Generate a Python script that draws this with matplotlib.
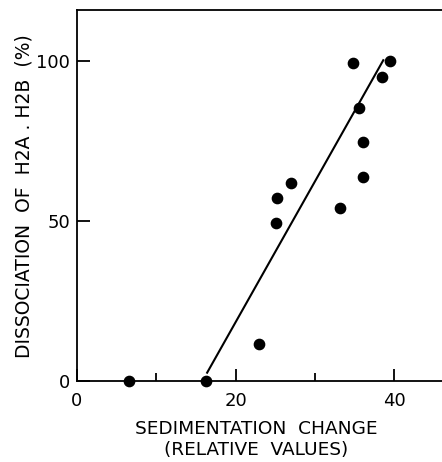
import matplotlib.pyplot as plt
from matplotlib.ticker import MultipleLocator

# sedimentation change vs dissociation of H2A.H2B
sed_change = [6.6, 16.2, 22.9, 25.1, 25.2, 27.0, 33.2, 34.8, 35.5, 36.0, 36.0, 38.4, 39.4]
dissociation = [0, 0, 11.6, 49.3, 57.1, 62.0, 54.2, 99.5, 85.3, 74.6, 63.8, 95.1, 99.9]

# fitted line end points
fit_x = [16.4, 38.6]
fit_y = [2.6, 100.3]

x_ticks = [0, 20, 40]
y_ticks = [0, 50, 100]

fig = plt.figure(figsize=(4.42, 4.62), dpi=100)
ax = fig.add_axes([77 / 442, 1 - 381 / 462, 1 - 77 / 442, (381 - 10) / 462])

ax.plot(fit_x, fit_y, color="black", lw=1.5)
ax.plot(sed_change, dissociation, "o", color="black", ms=7.4, clip_on=False, zorder=5)

ax.set_xlim(0, 46)
ax.set_ylim(0, 116)
ax.spines["right"].set_visible(False)
for s in ["left", "bottom", "top"]:
    ax.spines[s].set_linewidth(1.3)

ax.set_xticks(x_ticks)
ax.xaxis.set_minor_locator(MultipleLocator(10))
ax.set_yticks(y_ticks)
ax.tick_params(axis="x", which="major", direction="in", length=9, width=1.3, pad=8, labelsize=13)
ax.tick_params(axis="x", which="minor", direction="in", length=6, width=1.3)
ax.tick_params(axis="y", which="major", direction="in", length=9, width=1.3, pad=5, labelsize=13)

ax.set_xlabel("SEDIMENTATION  CHANGE\n(RELATIVE  VALUES)", fontsize=13.3, linespacing=1.2)
ax.xaxis.set_label_coords(0.49, -0.106)
ax.set_ylabel("DISSOCIATION  OF  H2A . H2B  (%)", fontsize=13.5)
ax.yaxis.set_label_coords(-0.12, 0.499)

plt.savefig("out.png", dpi=100)
